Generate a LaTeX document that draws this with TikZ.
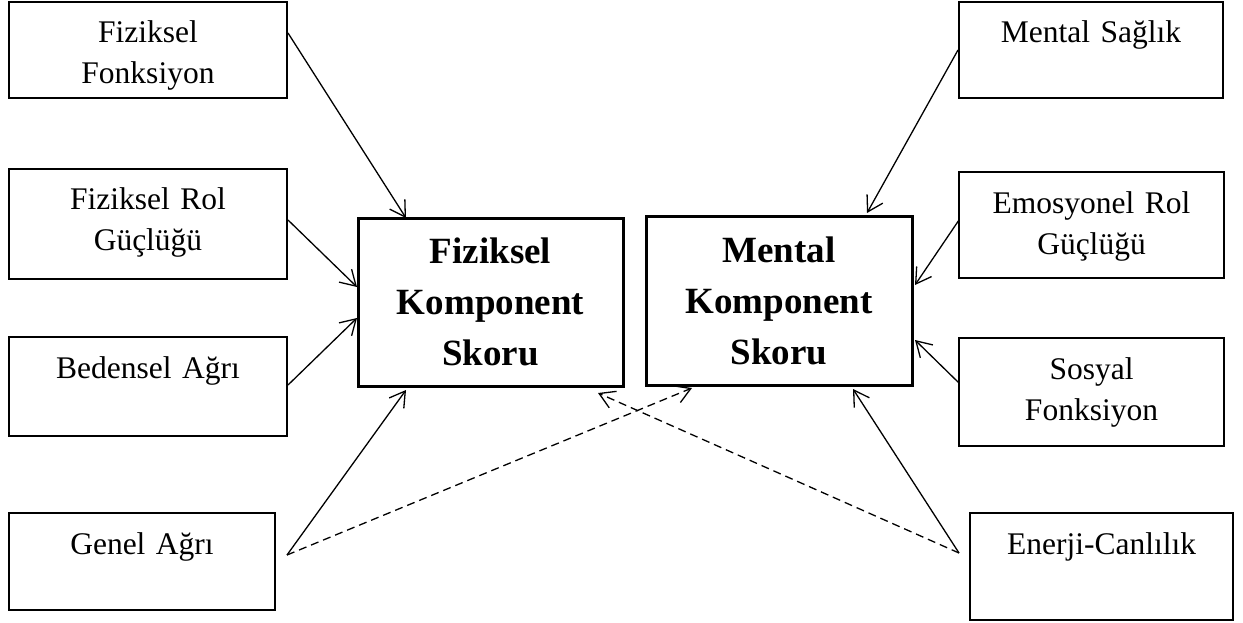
\documentclass[tikz,border=0pt]{standalone}
\usepackage{fontspec}
\setmainfont{Liberation Serif}
\usetikzlibrary{arrows.meta,calc}
\begin{document}
\begin{tikzpicture}[x=1pt,y=-1pt,
  sbox/.style={draw, line width=1.5pt, rectangle, anchor=north west, inner sep=0pt, outer sep=0pt},
  cbox/.style={draw, line width=3pt, rectangle, anchor=north west, inner sep=0pt, outer sep=0pt, align=center, font=\bfseries\fontsize{37}{51}\selectfont},
  stxt/.style={anchor=base, inner sep=0pt, align=center, font=\fontsize{31.5}{41}\selectfont},
  arr/.style={-{Straight Barb[length=15pt,width=18pt]}, line width=1.3pt},
  dsh/.style={arr, dash pattern=on 8pt off 5pt}]
\useasboundingbox (0,0) rectangle (1243,623);
\fill[white] (0,0) rectangle (1243,623);

% left boxes
\node[sbox, minimum width=278pt, minimum height=96pt] (ff) at (9,2) {};
\node[stxt, text width=278pt] (fft) at ($(ff.north)+(0,41)$) {Fiziksel\\Fonksiyon};
\node[sbox, minimum width=278pt, minimum height=110pt] (frg) at (9,169) {};
\node[stxt, text width=278pt] (frgt) at ($(frg.north)+(0,41)$) {Fiziksel Rol\\Güçlüğü};
\node[sbox, minimum width=278pt, minimum height=99pt] (ba) at (9,337) {};
\node[stxt, text width=278pt] (bat) at ($(ba.north)+(0,41)$) {Bedensel Ağrı};
\node[sbox, minimum width=266pt, minimum height=97pt] (ga) at (9,513) {};
\node[stxt, text width=266pt] (gat) at ($(ga.north)+(0,41)$) {Genel Ağrı};

% right boxes
\node[sbox, minimum width=264pt, minimum height=96pt] (ms) at (959,2) {};
\node[stxt, text width=264pt] (mst) at ($(ms.north)+(0,41)$) {Mental Sağlık};
\node[sbox, minimum width=265pt, minimum height=106pt] (er) at (959,172) {};
\node[stxt, text width=265pt] (ert) at ($(er.north)+(0,41)$) {Emosyonel Rol\\Güçlüğü};
\node[sbox, minimum width=265pt, minimum height=108pt] (sf) at (959,338) {};
\node[stxt, text width=265pt] (sft) at ($(sf.north)+(0,41)$) {Sosyal\\Fonksiyon};
\node[sbox, minimum width=263pt, minimum height=107pt] (ec) at (970,513) {};
\node[stxt, text width=263pt] (ect) at ($(ec.north)+(0,41)$) {Enerji-Canlılık};

% central boxes
\node[cbox, minimum width=265pt, minimum height=168pt] (fks) at (358,218) {Fiziksel\\Komponent\\Skoru};
\node[cbox, minimum width=266pt, minimum height=169pt] (mks) at (646,216) {Mental\\Komponent\\Skoru};

% free ends
\coordinate (gs) at ($(ga.north east)+(12,42)$);
\coordinate (es) at ($(ec.north west)+(-11,40)$);

% arrows left
\draw[arr] ($(ff.north east)+(1,31)$) -- ($(fks.north west)+(48,0)$);
\draw[arr] ($(frg.north east)+(1,51)$) -- ($(fks.north west)+(-1,69)$);
\draw[arr] ($(ba.north east)+(1,48)$) -- ($(fks.north west)+(-1,100)$);
\draw[arr] (gs) -- ($(fks.south west)+(48,4)$);
\draw[dsh] (gs) -- ($(mks.south west)+(46,3)$);

% arrows right
\draw[arr] ($(ms.north west)+(-1,48)$) -- ($(mks.north west)+(221,-3)$);
\draw[arr] ($(er.north west)+(0,48)$) -- ($(mks.north east)+(3,69)$);
\draw[arr] ($(sf.north west)+(0,45)$) -- ($(mks.north east)+(3,124)$);
\draw[arr] (es) -- ($(mks.south east)+(-59,4)$);
\draw[dsh] (es) -- ($(fks.south east)+(-25,7)$);
\end{tikzpicture}
\end{document}
